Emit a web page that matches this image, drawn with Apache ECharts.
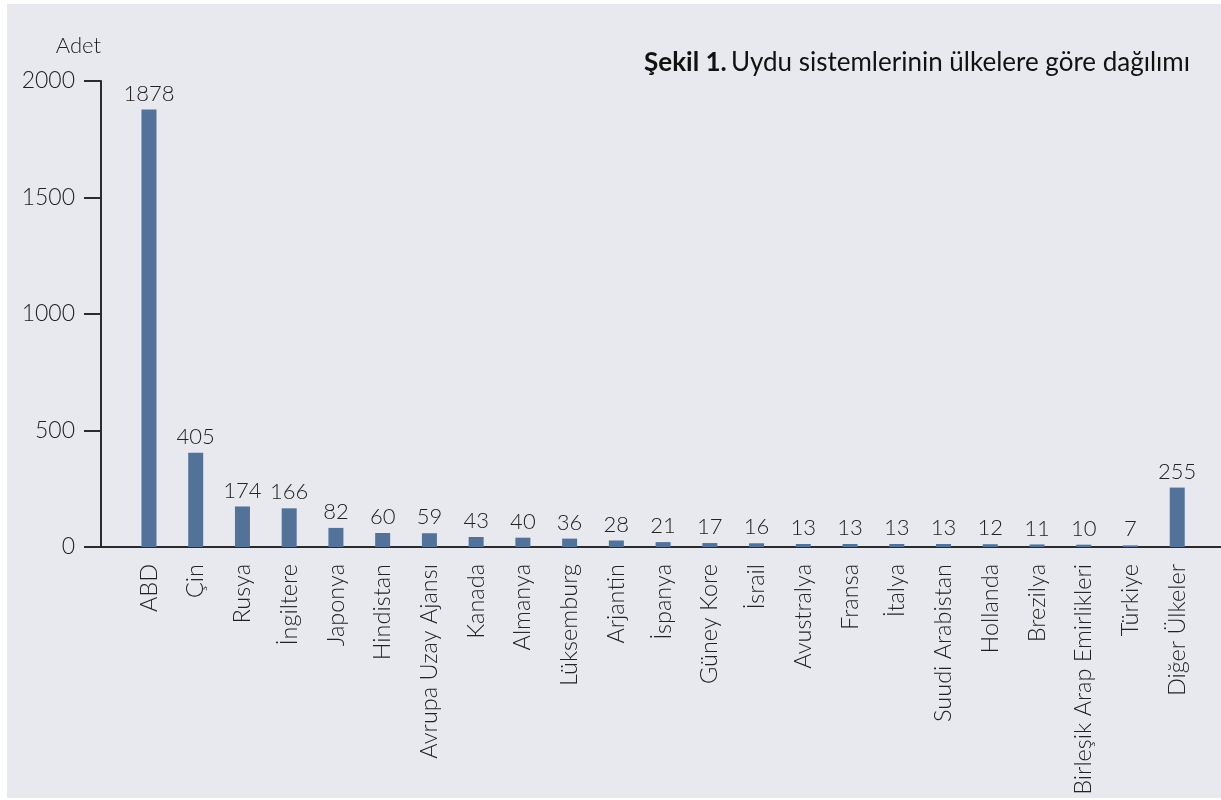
<!DOCTYPE html>
<html><head><meta charset="utf-8">
<script src="https://cdn.jsdelivr.net/npm/echarts@6/dist/echarts.min.js"></script>
<style>
html,body{margin:0;padding:0;background:#ffffff;width:1221px;height:800px;overflow:hidden;}
#c{position:absolute;left:7px;top:4px;width:1214px;height:794px;background:#e8e9ee;}
</style></head>
<body><div id="c"></div>
<script>
const categories = ["ABD","Çin","Rusya","İngiltere","Japonya","Hindistan","Avrupa Uzay Ajansı","Kanada","Almanya","Lüksemburg","Arjantin","İspanya","Güney Kore","İsrail","Avustralya","Fransa","İtalya","Suudi Arabistan","Hollanda","Brezilya","Birleşik Arap Emirlikleri","Türkiye","Diğer Ülkeler"];
const values = [1878,405,174,166,82,60,59,43,40,36,28,21,17,16,13,13,13,13,12,11,10,7,255];
const yTicks = [0,500,1000,1500,2000];
const titleBold = "Şekil 1.";
const titleText = "Uydu sistemlerinin ülkelere göre dağılımı";
const yName = "Adet";

const FONT = "Lato";
const TXT = "#222222";
const chart = echarts.init(document.getElementById('c'));
chart.setOption({
  animation:false,
  backgroundColor:'#e8e9ee',
  textStyle:{fontFamily:FONT},
  title:{
    text:'{b|'+titleBold+'} {r|'+titleText+'}',
    right:26, top:41,
    textStyle:{rich:{
      b:{fontFamily:FONT,fontWeight:'bold',fontSize:26,color:'#111'},
      r:{fontFamily:FONT,fontWeight:'normal',fontSize:26,color:'#111'}
    }}
  },
  grid:[
    {left:118.6,right:20.4,top:77,bottom:251},
    {left:94,right:0,top:77,bottom:251}
  ],
  xAxis:[
    {type:'category',gridIndex:0,data:categories,
     axisLine:{show:false},axisTick:{show:false},
     axisLabel:{rotate:90,interval:0,margin:17,fontSize:23.5,fontWeight:300,color:TXT,fontFamily:FONT}},
    {type:'value',gridIndex:1,min:0,max:1,
     axisLine:{show:true,lineStyle:{color:'#2b2b2b',width:2}},
     axisTick:{show:false},axisLabel:{show:false},splitLine:{show:false}}
  ],
  yAxis:[
    {type:'value',gridIndex:0,min:yTicks[0],max:yTicks[yTicks.length-1],interval:500,offset:24.6,
     name:yName,nameLocation:'end',nameGap:24,
     nameTextStyle:{align:'right',verticalAlign:'bottom',fontSize:22,fontWeight:300,color:TXT,fontFamily:FONT},
     axisLine:{show:true,lineStyle:{color:'#2b2b2b',width:2}},
     axisTick:{show:true,inside:false,length:17,lineStyle:{color:'#2b2b2b',width:2}},
     axisLabel:{margin:26,fontSize:23,fontWeight:300,color:TXT,fontFamily:FONT,formatter:v=>String(v)},
     splitLine:{show:false}},
    {type:'value',gridIndex:1,show:false}
  ],
  series:[{
    type:'bar',xAxisIndex:0,yAxisIndex:0,data:values,barWidth:15,
    itemStyle:{color:'#53729a'},
    label:{show:true,position:'top',distance:5,fontSize:22,fontWeight:300,color:TXT,fontFamily:FONT}
  }]
});
</script></body></html>
